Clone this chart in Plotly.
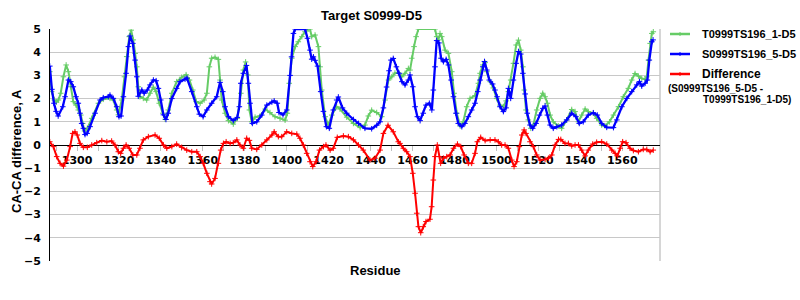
import plotly.graph_objects as go

# ---------------- data ----------------
green_name = "T0999TS196_1-D5"
blue_name = "S0999TS196_5-D5"
diff_name = "Difference"

green_res = [1287, 1287.9, 1289.2, 1290.2, 1291.1, 1292.2, 1293.5, 1294.8, 1295.9, 1297,
             1298.2, 1299.5, 1300.6, 1301.8, 1302.7, 1303.6, 1304.9, 1307, 1310.2, 1312.5,
             1315.7, 1317.3, 1318.9, 1319.7, 1321.3, 1322.6, 1323.7, 1324.9, 1325.8, 1326.8,
             1327.7, 1328.5, 1329.2, 1330, 1331.6, 1333.2, 1334.8, 1336.4, 1337.7, 1339.2,
             1340.9, 1342, 1343.5, 1345.2, 1347.5, 1349.9, 1352, 1353.6, 1355.2, 1356.8,
             1358.7, 1360.6, 1361.9, 1363.1, 1364.2, 1365.8, 1367.4, 1368.2, 1369, 1370.6,
             1372.2, 1374.5, 1376.4, 1378.1, 1379.3, 1380.4, 1381.4, 1382.2, 1383.3, 1384.9,
             1387.3, 1389.7, 1392, 1394.4, 1396.8, 1399.2, 1400.3, 1401.2, 1402.4, 1404,
             1405.5, 1407.2, 1408.7, 1410.3, 1411.1, 1411.9, 1413.5, 1415.1, 1415.9, 1416.7,
             1418.3, 1419.8, 1421.5, 1423.8, 1425.4, 1428.6, 1431.8, 1435, 1437.3, 1438.9,
             1440.5, 1442.9, 1445.3, 1446.9, 1448.5, 1450.1, 1451.6, 1453.2, 1454.8, 1456.4,
             1458, 1458.8, 1459.6, 1460.7, 1461.7, 1462.8, 1470.7, 1471.5, 1472.3, 1473.1,
             1473.9, 1475.5, 1477.1, 1478.7, 1479.8, 1481.1, 1482.7, 1484.2, 1485.8, 1487.4,
             1489.8, 1491.4, 1492.2, 1493.5, 1494.6, 1495.4, 1497, 1498.5, 1500.1, 1501.7,
             1503.3, 1504.6, 1505.7, 1506.8, 1508.1, 1509.4, 1510.5, 1511.6, 1512.6, 1513.3,
             1514.1, 1515.2, 1516.4, 1517.6, 1519.2, 1520.8, 1522.1, 1523.2, 1524.3, 1525.6,
             1527.1, 1529.5, 1531.1, 1533.5, 1535.9, 1537.5, 1539.1, 1540.7, 1542.3, 1543.8,
             1546.2, 1547.8, 1550.2, 1551.8, 1553.9, 1555.8, 1558.2, 1560.5, 1562.9, 1564.5,
             1566.1, 1567.7, 1569.3, 1570.9, 1571.7, 1572.5, 1573.3, 1574.1, 1574.8]
green_val = [3.16, 2.3, 1.94, 1.85, 1.94, 2.23, 2.94, 3.45, 3.16, 2.51,
             1.87, 1.72, 1.51, 1.29, 0.93, 0.6, 0.72, 1.15, 1.8, 1.97,
             2.01, 1.94, 1.51, 1.3, 1.94, 2.94, 3.81, 4.67, 4.95, 4.53,
             3.95, 3.37, 2.51, 2.08, 2.01, 1.94, 2.23, 2.49, 2.3, 1.8,
             1.37, 1.11, 1.51, 2.23, 2.73, 2.92, 3.03, 2.8, 2.37, 1.87,
             1.8, 1.94, 2.23, 3.37, 3.74, 3.78, 3.69, 2.8, 1.94, 1.37,
             1.05, 0.9, 1.15, 2.23, 3.23, 3.58, 3.02, 1.51, 1.0, 1.2,
             1.25, 1.55, 1.4, 1.22, 1.15, 1.07, 1.37, 2.66, 3.74, 4.24,
             4.45, 4.67, 4.88, 5.0, 5.0, 4.67, 4.74, 4.24, 3.37, 2.37,
             1.22, 0.86, 1.29, 1.65, 1.55, 1.2, 0.93, 0.75, 0.86, 1.25,
             1.5, 1.4, 1.22, 1.94, 2.8, 2.94, 3.1, 3.12, 2.94, 3.09,
             3.3, 3.23, 3.74, 4.24, 4.67, 5.0, 5.0, 4.67, 4.53, 4.81,
             4.67, 4.09, 3.95, 3.16, 2.23, 1.37, 0.82, 1.0, 1.65, 2.01,
             2.13, 2.66, 3.09, 3.45, 3.55, 3.16, 2.73, 2.46, 2.0, 1.72,
             1.65, 1.9, 2.3, 2.8, 3.52, 4.31, 4.52, 4.09, 3.37, 2.37,
             1.51, 1.08, 0.72, 0.86, 1.51, 2.01, 2.23, 2.08, 1.8, 1.29,
             1.0, 0.82, 0.72, 1.08, 1.53, 1.44, 1.0, 1.29, 1.55, 1.44,
             1.37, 1.15, 0.86, 0.82, 1.0, 1.29, 1.65, 2.08, 2.44, 2.8,
             3.08, 2.97, 2.87, 2.83, 2.94, 3.66, 4.38, 4.81, 4.88]

blue_res = [1287, 1288, 1289, 1290, 1291, 1293.2, 1294.3, 1295.9, 1297, 1298.2,
            1299.5, 1300.6, 1301.4, 1302.2, 1303, 1303.8, 1304.8, 1306.2, 1308.6, 1311,
            1312.5, 1314.9, 1315.7, 1317.3, 1318.9, 1320, 1321, 1322.1, 1323.4, 1324.5,
            1325.3, 1326.6, 1327.7, 1328.5, 1329.2, 1330.9, 1332, 1333.5, 1334.8, 1336.4,
            1337.7, 1338.8, 1339.9, 1341.2, 1342.4, 1343.5, 1345.2, 1347.5, 1349.1, 1351.5,
            1352.4, 1354.7, 1357.1, 1358.3, 1360.1, 1361.9, 1364.2, 1366.6, 1368.2, 1369.5,
            1370.6, 1372.2, 1374.5, 1376.4, 1377.4, 1378.1, 1379.3, 1380.8, 1381.7, 1382.5,
            1383.6, 1385.7, 1388.1, 1390.5, 1392.9, 1394, 1395.5, 1396.3, 1398.2, 1400,
            1401.6, 1402.3, 1403.2, 1404, 1408.7, 1409.9, 1411.1, 1411.9, 1412.7, 1413.5,
            1414.7, 1416.2, 1417.5, 1418.9, 1420.3, 1422.2, 1423.8, 1424.6, 1426.6, 1428.6,
            1431.8, 1434.2, 1437.3, 1440.5, 1442.9, 1444.5, 1446.1, 1447.6, 1448.8, 1449.7,
            1450.8, 1452.3, 1453.6, 1454.9, 1456.4, 1458, 1458.8, 1460.1, 1461.2, 1462.3,
            1463.6, 1465.1, 1466.4, 1468, 1469.2, 1469.9, 1470.7, 1471.5, 1472.6, 1473.6,
            1474.7, 1476, 1477.1, 1478.4, 1479.5, 1480.7, 1481.8, 1483.5, 1485, 1486.6,
            1488.2, 1489.8, 1491.1, 1492.2, 1493.5, 1494.3, 1495.4, 1496.6, 1498.2, 1499.3,
            1500.3, 1501.7, 1503.3, 1504.6, 1505.7, 1506.8, 1508.1, 1509.4, 1510.5, 1511.6,
            1512.6, 1513.7, 1514.7, 1516, 1517.3, 1518.9, 1520.5, 1522.1, 1523.2, 1524.3,
            1525.6, 1527.1, 1528.8, 1531.1, 1533.5, 1535.9, 1537.9, 1539.5, 1541.4, 1543.8,
            1546.2, 1548.1, 1550.2, 1552.6, 1555.8, 1557.4, 1559.8, 1562.2, 1564.5, 1566.9,
            1568.2, 1569.3, 1570.9, 1572, 1572.9, 1574.1, 1574.7]
blue_val = [3.4, 2.4, 1.8, 1.45, 1.25, 1.65, 2.08, 2.8, 2.73, 2.51,
            2.08, 1.8, 1.37, 0.93, 0.72, 0.45, 0.5, 0.79, 1.37, 1.94,
            2.04, 2.08, 2.15, 2.01, 1.65, 1.22, 1.25, 2.08, 3.09, 4.24,
            4.7, 4.38, 3.66, 2.94, 2.1, 2.37, 2.23, 2.37, 2.59, 2.8,
            2.77, 2.44, 1.94, 1.3, 1.1, 1.37, 2.0, 2.44, 2.73, 2.84,
            2.88, 2.3, 1.65, 1.33, 1.22, 1.51, 1.8, 2.08, 2.7, 2.3,
            1.65, 1.22, 1.05, 1.19, 1.65, 2.66, 3.09, 3.43, 2.66, 1.8,
            0.93, 1.0, 1.29, 1.72, 1.85, 1.9, 1.8, 1.4, 1.3, 1.51,
            3.0, 3.8, 4.81, 5.0, 5.0, 4.6, 4.09, 3.7, 3.8, 3.65,
            3.4, 2.3, 1.45, 0.79, 0.72, 1.51, 1.94, 2.07, 1.6, 1.37,
            1.1, 0.93, 0.72, 0.7, 0.85, 1.0, 1.6, 2.5, 3.2, 3.66,
            3.73, 3.37, 3.09, 2.73, 2.59, 2.8, 3.02, 2.51, 1.65, 1.22,
            1.05, 1.37, 1.72, 1.8, 1.51, 2.37, 3.37, 4.5, 4.4, 3.74,
            3.59, 3.69, 3.45, 2.8, 2.08, 1.37, 0.93, 0.79, 0.93, 1.22,
            1.51, 1.8, 2.3, 2.8, 3.37, 3.6, 3.23, 2.8, 2.63, 2.37,
            2.08, 1.65, 1.44, 1.6, 2.44, 2.01, 2.8, 3.52, 4.03, 3.92,
            3.09, 2.2, 1.37, 0.86, 0.72, 0.93, 1.29, 1.58, 1.68, 1.29,
            0.86, 0.72, 0.79, 0.86, 1.08, 1.37, 1.22, 0.93, 1.0, 1.29,
            1.39, 1.29, 0.93, 0.76, 0.75, 1.08, 1.65, 2.01, 2.3, 2.59,
            2.73, 2.54, 2.66, 2.8, 3.66, 4.45, 4.53]

diff_res = [1287, 1288.7, 1290.3, 1291.9, 1293.5, 1295.1, 1296.7, 1297.9, 1299, 1300.1,
            1301.4, 1303, 1304.9, 1307, 1309.4, 1311.8, 1314.2, 1316.5, 1318.1, 1319.7,
            1320.8, 1322.1, 1323.4, 1324.9, 1326.6, 1328.5, 1330, 1331.6, 1334, 1337.2,
            1339.2, 1341.2, 1342.8, 1345.2, 1347.5, 1349.9, 1352.3, 1354.7, 1357.1, 1358.7,
            1360.2, 1361.9, 1363.4, 1364.2, 1365.8, 1367.4, 1368.5, 1369.8, 1371.1, 1373,
            1374.5, 1376.2, 1377.7, 1379.3, 1380.9, 1382.2, 1383.3, 1385.7, 1388.1, 1390.5,
            1392.9, 1394, 1396, 1397.6, 1400, 1402.4, 1404.8, 1406.3, 1407.9, 1409.5,
            1411.1, 1412.4, 1414, 1415.6, 1417.5, 1418.7, 1420.7, 1422.2, 1424.1, 1427,
            1429.4, 1431.8, 1434.2, 1436.5, 1439.7, 1442.1, 1444.5, 1446.1, 1448.3, 1450.8,
            1453.2, 1454, 1455.6, 1457.2, 1458.8, 1460.1, 1461.2, 1462, 1462.8, 1463.9,
            1465.1, 1466.4, 1468.3, 1469.1, 1469.9, 1470.7, 1471.8, 1472.8, 1473.4, 1474.7,
            1476.3, 1477.9, 1479.5, 1481.4, 1483, 1484.6, 1486.6, 1488.2, 1489.8, 1490.9,
            1492.5, 1494.6, 1497, 1499.3, 1500.9, 1502.5, 1504.1, 1505.7, 1507.3, 1508.4,
            1509.7, 1510.9, 1512.1, 1513.2, 1514.1, 1516, 1517.6, 1519.2, 1520.8, 1523.2,
            1524.8, 1526.4, 1528, 1529.6, 1530.7, 1532.7, 1534.3, 1535.9, 1537.5, 1539.1,
            1540.7, 1542.3, 1543.8, 1545.9, 1547.8, 1550.2, 1552.6, 1555, 1556.6, 1557.7,
            1559, 1560.2, 1561.8, 1563.7, 1565.3, 1567.7, 1570, 1571.7, 1573.3, 1574.8]
diff_val = [0.14, -0.07, -0.5, -0.79, -0.91, -0.65, -0.07, 0.5, 0.57, 0.43,
            0.07, -0.1, -0.1, 0.0, 0.1, 0.19, 0.14, 0.17, 0.0, -0.29,
            -0.36, -0.14, 0.0, -0.14, -0.43, -0.43, -0.14, 0.22, 0.36, 0.43,
            0.29, 0.0, -0.14, -0.07, 0.04, -0.1, -0.22, -0.29, -0.29, -0.5,
            -0.79, -1.22, -1.58, -1.68, -1.44, -0.79, -0.22, 0.07, 0.14, 0.07,
            0.1, 0.22, 0.0, -0.14, 0.29, 0.2, -0.14, -0.19, 0.0, 0.22,
            0.43, 0.57, 0.36, 0.36, 0.57, 0.5, 0.47, 0.29, 0.0, -0.36,
            -0.72, -0.93, -0.72, -0.22, -0.07, 0.0, -0.22, -0.14, 0.33, 0.39,
            0.36, 0.22, 0.0, -0.22, -0.65, -0.57, -0.22, 0.5, 0.85, 0.57,
            0.14, 0.07, -0.14, -0.29, -0.5, -1.22, -2.08, -2.94, -3.52, -3.78,
            -3.52, -3.3, -3.2, -2.66, -1.51, -0.5, 0.0, -0.5, -0.79, -0.57,
            -0.5, -0.43, -0.14, 0.04, -0.07, -0.43, -0.79, -0.79, -0.36, 0.14,
            0.33, 0.19, 0.22, 0.22, 0.14, 0.0, 0.0, -0.14, -0.65, -0.93,
            -0.72, -0.07, 0.43, 0.65, 0.5, 0.14, -0.07, -0.43, -0.65, -0.62,
            -0.57, -0.43, 0.0, 0.24, 0.24, 0.07, 0.07, -0.04, 0.0, 0.0,
            -0.22, -0.47, -0.22, 0.04, 0.12, 0.14, 0.04, -0.22, -0.36, -0.47,
            -0.14, 0.14, 0.1, -0.14, -0.24, -0.29, -0.19, -0.19, -0.29, -0.22]

x_tick_vals = list(range(1290, 1580, 10))
x_tick_text = [str(v) if v % 20 == 0 else "" for v in x_tick_vals]
y_tick_vals = [-5, -4, -3, -2, -1, 0, 1, 2, 3, 4, 5]

assert len(green_res) == len(green_val)
assert len(blue_res) == len(blue_val)
assert len(diff_res) == len(diff_val)

# ---------------- figure ----------------
W, H = 800, 300
L, R, T, B = 50, 140, 29, 39
PW, PH = W - L - R, H - T - B


def px(xp):
    return (xp - L) / PW


def py(yp):
    return (H - B - yp) / PH


GREEN = "#66CC66"
BLUE = "#0000FF"
RED = "#FF0000"
LAB = "Liberation Sans, Arial, sans-serif"
TICKF = "DejaVu Sans, sans-serif"


def mk(col):
    return dict(symbol="cross-thin", size=4, line=dict(color=col, width=1), color=col)


fig = go.Figure()
fig.add_trace(go.Scatter(x=green_res, y=green_val, mode="lines+markers", name=green_name,
                         line=dict(color=GREEN, width=2), marker=mk(GREEN), showlegend=False))
fig.add_trace(go.Scatter(x=blue_res, y=blue_val, mode="lines+markers", name=blue_name,
                         line=dict(color=BLUE, width=2.3), marker=mk(BLUE), showlegend=False))
fig.add_trace(go.Scatter(x=diff_res, y=diff_val, mode="lines+markers", name=diff_name,
                         line=dict(color=RED, width=2), marker=mk(RED), showlegend=False))

fig.update_layout(
    width=W, height=H,
    margin=dict(l=L, r=R, t=T, b=B, pad=0),
    paper_bgcolor="white", plot_bgcolor="white",
    xaxis=dict(range=[1287.1, 1578.0], tickvals=x_tick_vals, ticktext=x_tick_text,
               anchor="free", position=0.5, showline=True, linecolor="black", linewidth=1,
               ticks="outside", ticklen=5, tickcolor="#c0c0c0", tickwidth=1,
               showgrid=False, zeroline=False, layer="below traces",
               tickfont=dict(family=TICKF, size=11, color="black", weight="bold")),
    yaxis=dict(range=[-5, 5], tickvals=y_tick_vals, showgrid=True, gridcolor="#c8c8c8",
               gridwidth=1, showline=True, linecolor="black", linewidth=1,
               zeroline=False, ticks="", ticklabelstandoff=6,
               tickfont=dict(family=TICKF, size=11, color="black", weight="bold")),
)

# right border
fig.add_shape(type="line", xref="paper", yref="paper", x0=1, x1=1, y0=0, y1=1,
              line=dict(color="#c8c8c8", width=1.5), layer="below")

ann = []
ann.append(dict(text="<b>Target S0999-D5</b>", x=px(371), y=py(15), xref="paper", yref="paper",
                showarrow=False, xanchor="center", yanchor="middle",
                font=dict(family=LAB, size=13, color="black")))
ann.append(dict(text="<b>Residue</b>", x=px(375.5), y=py(270), xref="paper", yref="paper",
                showarrow=False, xanchor="center", yanchor="middle",
                font=dict(family=LAB, size=13, color="black")))
ann.append(dict(text="<b>CA-CA difference, A</b>", x=px(16), y=py(151), xref="paper", yref="paper",
                showarrow=False, xanchor="center", yanchor="middle", textangle=-90,
                font=dict(family=LAB, size=13, color="black")))

# legend
leg = [(green_name, GREEN, 34), (blue_name, BLUE, 54), (diff_name, RED, 74)]
for name, col, yy in leg:
    fig.add_shape(type="line", xref="paper", yref="paper", x0=px(670), x1=px(690),
                  y0=py(yy), y1=py(yy), line=dict(color=col, width=2.5))
    fig.add_shape(type="line", xref="paper", yref="paper", x0=px(680), x1=px(680),
                  y0=py(yy - 2), y1=py(yy + 2), line=dict(color=col, width=1))
    ann.append(dict(text=f"<b>{name}</b>", x=px(700), y=py(yy), xref="paper", yref="paper",
                    showarrow=False, xanchor="left", yanchor="middle",
                    font=dict(family=LAB, size=12 if name == diff_name else 11, color="black")))
ann.append(dict(text="<b>(S0999TS196_5-D5 -</b>", x=px(666), y=py(88), xref="paper", yref="paper",
                showarrow=False, xanchor="left", yanchor="middle",
                font=dict(family=LAB, size=10, color="black")))
ann.append(dict(text="<b>T0999TS196_1-D5)</b>", x=px(701), y=py(99), xref="paper", yref="paper",
                showarrow=False, xanchor="left", yanchor="middle",
                font=dict(family=LAB, size=10, color="black")))
fig.update_layout(annotations=ann)

fig.write_html("out.html")
